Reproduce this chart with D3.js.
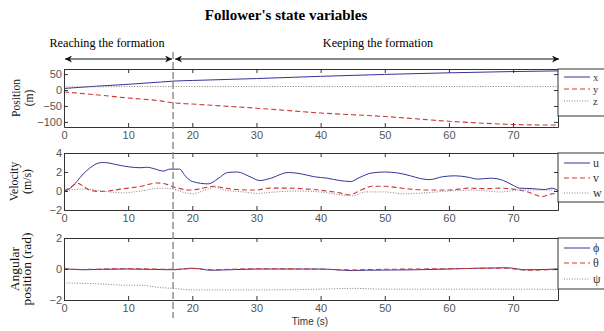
<!DOCTYPE html>
<html>
<head>
<meta charset="utf-8">
<script src="https://cdn.jsdelivr.net/npm/d3@7"></script>
<style>
  body { margin: 0; background: #fff; }
  svg { display: block; }
</style>
</head>
<body>
<svg></svg>
<script>
'use strict';

const svgWidth = 604;
const svgHeight = 331;

// --- data ---
const timeTicks = [0, 10, 20, 30, 40, 50, 60, 70];
const switchTime = 17;

const posT = [0, 5, 10, 15, 17, 20, 30, 40, 50, 60, 70, 77];
const posX = [5, 12, 18, 25, 28, 30, 36, 43, 49, 54, 58, 60];
const posY = [-6, -15, -25, -34, -40, -44, -57, -72, -83, -98, -108, -110];
const posZ = [10, 10, 11, 11, 11, 11, 11, 11, 11, 11, 11, 11];

const uT = [0, 1, 2, 3, 4, 5, 6, 7, 8, 10, 12, 13, 14, 15.5, 16.5, 18, 19, 20, 22.5, 24, 25.5, 27, 29, 30.5, 32, 35, 37, 39, 41, 43, 44.7, 46, 48, 50, 52, 54, 55.6, 57, 59, 61, 63, 64.5, 66.5, 68.5, 70, 71, 73, 75, 76, 77];
const velU = [0, 0.3, 1.0, 1.8, 2.4, 2.85, 3.0, 2.95, 2.8, 2.55, 2.45, 2.5, 2.35, 2.1, 2.3, 2.3, 1.5, 1.0, 0.75, 1.3, 1.95, 2.0, 1.5, 1.1, 1.3, 1.95, 1.8, 1.5, 1.35, 1.1, 1.0, 1.4, 1.9, 2.0, 1.9, 1.6, 1.3, 1.2, 1.5, 1.6, 1.45, 1.25, 1.35, 1.1, 0.6, 0.3, 0.25, 0.15, 0.3, 0.05];

const vT = [0, 1, 2.2, 3, 4, 5.6, 7, 8.8, 10, 12, 14.5, 16, 17, 19.7, 21, 23.3, 25, 27, 30, 32, 35, 38, 41, 43, 44.5, 46, 47, 48, 50, 52, 54, 57, 60, 63, 66, 68, 70, 72, 73.5, 74.5, 76, 77];
const velV = [0, 0.4, 0.8, 0.5, 0.1, -0.05, 0, 0.2, 0.3, 0.5, 0.85, 0.7, 0.45, 0.1, 0.2, 0.5, 0.3, 0.15, 0.1, 0.3, 0.3, 0.2, 0, -0.2, -0.4, 0, 0.3, 0.5, 0.5, 0.35, 0.2, 0.1, 0.1, 0.3, 0.25, 0.3, 0.2, -0.05, -0.4, -0.6, -0.3, -0.25];

const wT = [0, 3, 6, 9, 12, 15, 17, 19, 20, 22, 23.5, 25, 28, 30, 33, 36, 40, 43, 45, 47, 50, 53, 56, 60, 64, 68, 71, 74, 77];
const velW = [0, 0.2, 0, -0.2, 0, 0.3, 0.2, -0.2, -0.3, 0.1, 0.4, 0.1, -0.1, -0.25, -0.1, 0, -0.1, -0.4, -0.5, -0.1, -0.1, -0.3, -0.2, 0, 0.1, -0.1, 0.1, 0.1, 0.1];

const angT = [0, 3, 6, 10, 17, 20, 23, 30, 40, 45, 47, 55, 60, 69, 72, 77];
const angPhi = [0.02, -0.05, -0.02, 0, -0.05, 0.05, -0.08, 0, 0, -0.1, -0.08, -0.05, 0, 0.08, -0.05, 0];
const angTheta = [0, -0.03, 0, 0.02, -0.02, 0.03, -0.05, 0.02, -0.02, -0.06, -0.04, 0, 0.02, 0.05, -0.08, -0.02];
const psiT = [0, 5, 10, 12, 15, 17, 20, 30, 40, 45, 50, 60, 70, 77];
const angPsi = [-0.9, -0.95, -1.05, -1.05, -1.2, -1.25, -1.35, -1.35, -1.3, -1.25, -1.3, -1.3, -1.3, -1.32];

const svg = d3.select('svg')
  .attr('width', svgWidth)
  .attr('height', svgHeight)
  .attr('font-family', 'Liberation Serif, serif');

const left = 64, right = 558;
const x = d3.scaleLinear().domain([0, 77]).range([left, right]);

const blue = '#34349a', red = '#cc3a3a', grey = '#808080';
const styles = [
  { color: blue, dash: null, width: 1 },
  { color: red, dash: '5,3', width: 1.1 },
  { color: grey, dash: '1,1.6', width: 1 }
];

const panels = [
  {
    top: 69, bottom: 127, domain: [-116, 66], ticks: [-100, -50, 0, 50],
    label: ['Position', '(m)'], labelX: [20, 33], labelScale: 0.86,
    legendBottom: 116, legendY: [8, 20, 32], legendSize: 10.5,
    series: [[posT, posX, 'x'], [posT, posY, 'y'], [posT, posZ, 'z']]
  },
  {
    top: 153, bottom: 210, domain: [-2, 4], ticks: [-2, 0, 2, 4],
    label: ['Velocity', '(m/s)'], labelX: [18, 31], labelScale: 0.88,
    legendBottom: 202, legendY: [10, 25, 40], legendSize: 12,
    series: [[uT, velU, 'u'], [vT, velV, 'v'], [wT, velW, 'w']]
  },
  {
    top: 238, bottom: 300, domain: [-2, 2], ticks: [-2, 0, 2],
    label: ['Angular', 'position (rad)'], labelX: [19, 31], labelScale: 1,
    legendBottom: 289, legendY: [10, 25, 41], legendSize: 12,
    series: [[angT, angPhi, '\u03d5'], [angT, angTheta, '\u03b8'], [psiT, angPsi, '\u03c8']]
  }
];

svg.append('text')
  .attr('x', 286).attr('y', 20)
  .attr('text-anchor', 'middle')
  .attr('font-weight', 'bold')
  .attr('font-size', 15)
  .text("Follower's state variables");

svg.append('text')
  .attr('x', 107).attr('y', 47)
  .attr('text-anchor', 'middle')
  .attr('font-size', 12.2)
  .text('Reaching the formation');

svg.append('text')
  .attr('x', 378).attr('y', 47)
  .attr('text-anchor', 'middle')
  .attr('font-size', 12.2)
  .text('Keeping the formation');

// arrow heads
const defs = svg.append('defs');
defs.append('marker')
  .attr('id', 'arr')
  .attr('viewBox', '0 0 10 10')
  .attr('refX', 10).attr('refY', 5)
  .attr('markerWidth', 7).attr('markerHeight', 7)
  .attr('markerUnits', 'userSpaceOnUse')
  .attr('orient', 'auto-start-reverse')
  .append('path')
  .attr('d', 'M0,0 L10,5 L0,10 L3,5 Z')
  .attr('fill', '#111');

svg.append('line')
  .attr('x1', x(0) + 1).attr('x2', x(switchTime) - 1)
  .attr('y1', 59).attr('y2', 59)
  .attr('stroke', '#111')
  .attr('marker-start', 'url(#arr)')
  .attr('marker-end', 'url(#arr)');

svg.append('line')
  .attr('x1', x(switchTime) + 2).attr('x2', right + 1)
  .attr('y1', 59).attr('y2', 59)
  .attr('stroke', '#111')
  .attr('marker-start', 'url(#arr)')
  .attr('marker-end', 'url(#arr)');

panels.forEach((p, i) => {
  const y = d3.scaleLinear().domain(p.domain).range([p.bottom, p.top]);
  const g = svg.append('g');

  defs.append('clipPath').attr('id', 'clip' + i)
    .append('rect')
    .attr('x', left).attr('y', p.top)
    .attr('width', right - left).attr('height', p.bottom - p.top);

  // series
  const lines = g.append('g').attr('clip-path', `url(#clip${i})`);
  p.series.forEach((s, k) => {
    const pts = s[0].map((t, j) => [t, s[1][j]]);
    lines.append('path')
      .datum(pts)
      .attr('fill', 'none')
      .attr('stroke', styles[k].color)
      .attr('stroke-width', styles[k].width)
      .attr('stroke-dasharray', styles[k].dash)
      .attr('d', d3.line()
        .x(d => x(d[0]))
        .y(d => y(d[1]))
        .curve(d3.curveMonotoneX));
  });

  // axes, MATLAB style ticks inside
  const axisFont = g => g
    .attr('font-family', 'Liberation Sans, Arial, sans-serif')
    .attr('font-size', 11);

  g.append('g')
    .attr('transform', `translate(0,${p.bottom})`)
    .call(d3.axisBottom(x).tickValues(timeTicks).tickFormat(d3.format('d'))
      .tickSizeInner(-4).tickSizeOuter(0).tickPadding(4))
    .call(axisFont);

  g.append('g')
    .attr('transform', `translate(0,${p.top})`)
    .call(d3.axisTop(x).tickValues(timeTicks).tickFormat('')
      .tickSizeInner(-4).tickSizeOuter(0));

  g.append('g')
    .attr('transform', `translate(${left},0)`)
    .call(d3.axisLeft(y).tickValues(p.ticks).tickFormat(d3.format('d'))
      .tickSizeInner(-4).tickSizeOuter(0).tickPadding(2))
    .call(axisFont);

  g.append('g')
    .attr('transform', `translate(${right},0)`)
    .call(d3.axisRight(y).tickValues(p.ticks).tickFormat('')
      .tickSizeInner(-4).tickSizeOuter(0));

  g.selectAll('.domain, .tick line').attr('stroke', '#333');
  g.selectAll('.tick text').attr('fill', '#555');

  // y label, two lines, rotated
  p.label.forEach((txt, k) => {
    g.append('text')
      .attr('transform', `translate(${p.labelX[k]},${(p.top + p.bottom) / 2}) rotate(-90) scale(${p.labelScale},1)`)
      .attr('text-anchor', 'middle')
      .attr('font-size', 13.5)
      .attr('fill', '#111')
      .text(txt);
  });

  // legend
  const lg = g.append('g');
  lg.append('rect')
    .attr('x', right).attr('y', p.top)
    .attr('width', 60).attr('height', p.legendBottom - p.top)
    .attr('fill', '#fff')
    .attr('stroke', '#333');
  p.series.forEach((s, k) => {
    const ly = p.top + p.legendY[k];
    lg.append('line')
      .attr('x1', 564).attr('x2', 590)
      .attr('y1', ly).attr('y2', ly)
      .attr('stroke', styles[k].color)
      .attr('stroke-width', styles[k].width)
      .attr('stroke-dasharray', styles[k].dash);
    lg.append('text')
      .attr('x', 593).attr('y', ly + 3.5)
      .attr('font-size', p.legendSize)
      .attr('fill', '#333')
      .text(s[2]);
  });
});

svg.append('text')
  .attr('x', 310).attr('y', 325)
  .attr('text-anchor', 'middle')
  .attr('font-family', 'Liberation Sans, Arial, sans-serif')
  .attr('font-size', 10)
  .attr('fill', '#333')
  .text('Time (s)');

// switching instant
svg.append('line')
  .attr('x1', x(switchTime)).attr('x2', x(switchTime))
  .attr('y1', 52).attr('y2', 318)
  .attr('stroke', '#888')
  .attr('stroke-width', 1.4)
  .attr('stroke-dasharray', '7,3');
</script>
</body>
</html>
